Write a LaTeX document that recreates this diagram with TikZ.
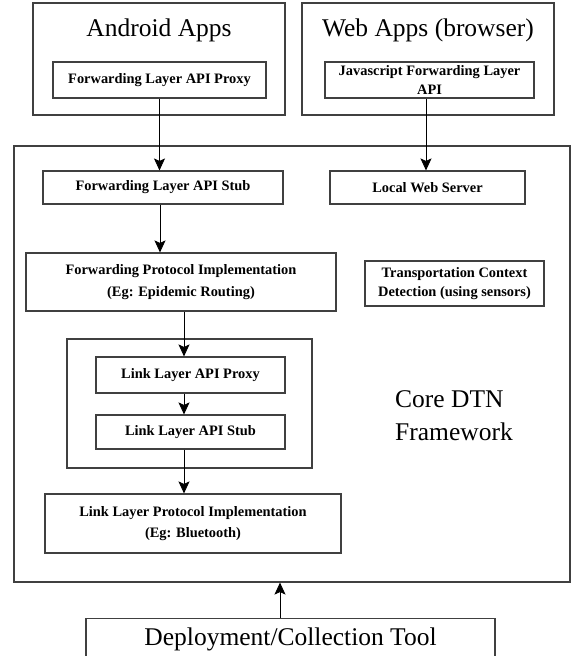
\documentclass[tikz,border=0pt]{standalone}
\usepackage{fontspec}
\setmainfont{Liberation Serif}
\usetikzlibrary{arrows.meta,calc,positioning}

\begin{document}
\begin{tikzpicture}[
    x=1pt, y=-1pt,
    box/.style={draw=black!75, line width=1.1pt, inner sep=0pt, align=center,
      font=\fontsize{14.4}{20}\selectfont\bfseries},
    frame/.style={draw=black!75, line width=1.1pt, inner sep=0pt},
    big/.style={inner sep=0pt, align=center, font=\fontsize{25.5}{32.5}\selectfont},
    arr/.style={-{Stealth[length=12pt, width=11pt, inset=2.5pt]}, line width=0.8pt},
  ]
  \useasboundingbox (0,0) rectangle (572,656);

  % applications
  \node[frame, minimum width=252, minimum height=112] (android) at (159,59) {};
  \node[big] (atitle) at (159,30) {Android Apps};
  \node[box, minimum width=213, minimum height=36] (aproxy) at (159.5,80) {Forwarding Layer API Proxy};

  \node[frame, minimum width=252, minimum height=112] (web) at (428,59) {};
  \node[big] (wtitle) at (428,30) {Web Apps (browser)};
  \node[box, minimum width=209, minimum height=36, font=\fontsize{14.4}{19}\selectfont\bfseries]
    (jsapi) at (429.5,80) {Javascript Forwarding Layer\\API};

  % core framework
  \node[frame, minimum width=556, minimum height=436] (core) at (292,364) {};
  \node[box, minimum width=240, minimum height=33] (fstub) at (163,187.5) {Forwarding Layer API Stub};
  \node[box, minimum width=195, minimum height=33] (lws) at (427.5,187.5) {Local Web Server};
  \node[box, minimum width=310, minimum height=58, font=\fontsize{14.4}{22.5}\selectfont\bfseries]
    (fproto) at (181,282) {Forwarding Protocol Implementation\\(Eg: Epidemic Routing)};
  \node[box, minimum width=179, minimum height=45, font=\fontsize{14.4}{18.5}\selectfont\bfseries]
    (tcd) at (454.5,283.5) {Transportation Context\\Detection (using sensors)};

  \node[frame, minimum width=245, minimum height=129] (lgroup) at (189.5,403.5) {};
  \node[box, minimum width=189, minimum height=36] (lproxy) at (190.5,375) {Link Layer API Proxy};
  \node[box, minimum width=189, minimum height=34] (lstub) at (190.5,432) {Link Layer API Stub};
  \node[box, minimum width=296, minimum height=59, font=\fontsize{14.4}{21}\selectfont\bfseries]
    (lproto) at (193,523.5) {Link Layer Protocol Implementation\\(Eg: Bluetooth)};

  \node[big, align=left, anchor=west] (ctitle) at (395,415.7) {Core DTN\\Framework};

  % tool
  \node[frame, big, anchor=north, minimum width=409, text height=27pt, text depth=35pt]
    (deploy) at (290.5,618) {Deployment/Collection Tool};

  % connectors
  \draw[arr] (aproxy.south) -- (aproxy.south |- fstub.north);
  \draw[arr] ([xshift=-3.5pt]jsapi.south) -- ([xshift=-3.5pt]jsapi.south |- lws.north);
  \draw[arr] ([xshift=-3pt]fstub.south) -- ([xshift=-3pt]fstub.south |- fproto.north);
  \draw[arr] ([xshift=3pt]fproto.south) -- ([xshift=3pt]fproto.south |- lproxy.north);
  \draw[arr] ([xshift=-6.5pt]lproxy.south) -- ([xshift=-6.5pt]lproxy.south |- lstub.north);
  \draw[arr] ([xshift=-6.5pt]lstub.south) -- ([xshift=-6.5pt]lstub.south |- lproto.north);
  \draw[arr] ([xshift=-10.5pt]deploy.north) -- ([xshift=-10.5pt]deploy.north |- core.south);

\end{tikzpicture}
\end{document}
